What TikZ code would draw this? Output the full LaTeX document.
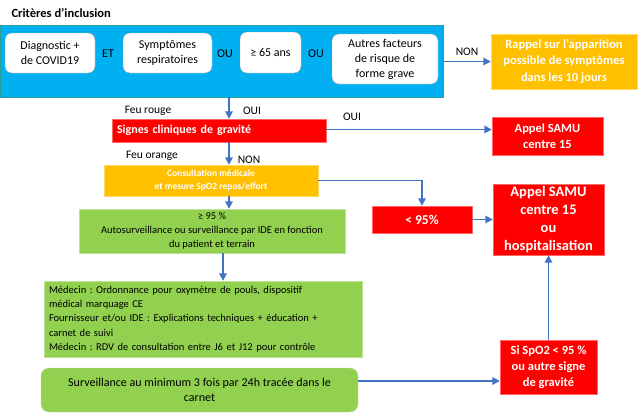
\documentclass[tikz,border=0pt]{standalone}
\usepackage{fontspec}
\setmainfont{Carlito}
\usepackage{tikz}
\usetikzlibrary{arrows.meta}
\definecolor{bleu}{HTML}{00B0F0}
\definecolor{orange}{HTML}{FFC000}
\definecolor{rouge}{HTML}{FF0000}
\definecolor{vert}{HTML}{92D050}
\definecolor{fleche}{HTML}{4472C4}
\newcommand{\taille}[2]{\fontsize{#1}{#2}\selectfont}
\frenchspacing

\begin{document}
\begin{tikzpicture}[x=1pt, y=-1pt,
        boite/.style={draw=gray!70, fill=white, rounded corners=7pt,
            align=center, inner sep=0pt, font=\taille{12}{15}},
        rougebox/.style={draw=rouge!60!white, fill=rouge, text=white,
            align=center, inner sep=0pt, font=\bfseries\taille{12.5}{16}},
        vertbox/.style={draw=vert!60!white, fill=vert, inner sep=0pt},
        lien/.style={draw=fleche, line width=1.7pt, ->,
            >={Triangle[length=7.5pt, width=7.5pt]}},
        etiq/.style={font=\taille{11.5}{14}}]
    \useasboundingbox (0, 0) rectangle (640, 415);
    \coordinate (axe) at (229, 0);
    \coordinate (axe2) at (223, 0);

    \node [anchor=west, font=\bfseries\taille{12.5}{15}] (titre) at (8, 13)
        {Critères d’inclusion};
    \node [draw={rgb,255:red,40;green,160;blue,150}, fill=bleu,
        minimum width=443, minimum height=72, anchor=north west]
        (criteres) at (0, 25) {};

    \node [boite, minimum width=90, minimum height=40] (diag) at (50, 53)
        {Diagnostic +\\de COVID19};
    \node [boite, minimum width=89, minimum height=40] (sympt) at (167.5, 53)
        {Symptômes\\respiratoires};
    \node [boite, minimum width=61, minimum height=41] (age) at (270.5, 52.5)
        {≥ 65 ans};
    \node [boite, minimum width=106, minimum height=50] (autres) at (385, 59)
        {Autres facteurs\\de risque de\\forme grave};
    \node [etiq, font=\taille{12}{15}] (et) at (108, 54) {ET};
    \node [etiq, font=\taille{12}{15}] (ou1) at (225, 54) {OU};
    \node [etiq, font=\taille{12}{15}] (ou2) at (316, 54) {OU};

    \node [fill=orange, draw=orange!60!white, text=white, align=center,
        inner sep=0pt, font=\bfseries\taille{12.5}{16.5},
        minimum width=146, minimum height=55] (rappel) at (564, 61.5)
        {Rappel sur l’apparition\\possible de symptômes\\dans les 10 jours};
    \draw [lien] (criteres.east |- rappel.west) -- (rappel.west);
    \node [etiq] (non1) at (467, 52) {NON};

    \node [rougebox, minimum width=214, minimum height=23, text width=204,
        align=left, font=\bfseries\taille{12}{15}] (gravite) at (219, 130.5)
        {Signes cliniques de gravité};
    \draw [lien] (criteres.south -| axe) -- (gravite.north -| axe);
    \node [etiq] (rouge) at (148, 111) {Feu rouge};
    \node [etiq] (oui1) at (252, 111) {OUI};

    \node [rougebox, minimum width=111, minimum height=38] (samu1)
        at (547.5, 136) {Appel SAMU\\centre 15};
    \draw [lien] ([yshift=1pt]gravite.east)
        -- ([yshift=1pt]gravite.east -| samu1.west);
    \node [etiq] (oui2) at (352, 117) {OUI};

    \node [fill=orange, draw=orange!60!white, text=white, align=center,
        inner sep=0pt, font=\bfseries\taille{9.5}{13.5},
        minimum width=214, minimum height=31] (consult) at (211, 180.5)
        {Consultation médicale\\et mesure SpO2 repos/effort};
    \draw [lien] (gravite.south -| axe) -- (consult.north -| axe);
    \node [etiq] (orange) at (152, 156) {Feu orange};
    \node [etiq] (non2) at (249, 160) {NON};

    \node [vertbox, minimum width=266, minimum height=44, align=center,
        font=\taille{10.5}{14}] (surv) at (212, 231)
        {≥ 95 \%\\Autosurveillance ou surveillance par IDE en fonction\\
        du patient et terrain};
    \draw [lien] (consult.south -| axe) -- (surv.north -| axe);

    \node [rougebox, minimum width=100, minimum height=27,
        font=\bfseries\taille{13.5}{16}] (inf) at (422, 219.5) {< 95\%};
    \draw [lien] (consult.east) -| (inf.north);

    \node [rougebox, minimum width=111, minimum height=71,
        font=\bfseries\taille{14.5}{18}] (samu2) at (548.5, 219.5)
        {Appel SAMU\\centre 15\\ou\\hospitalisation};
    \draw [lien] (inf.east) -- (inf.east -| samu2.west);

    \node [vertbox, minimum width=318, minimum height=76, text width=308,
        align=left, font=\taille{10.5}{14.3}] (medecin) at (203, 319)
        {Médecin : Ordonnance pour oxymètre de pouls, dispositif\\
        médical marquage CE\\
        Fournisseur et/ou IDE : Explications techniques + éducation +\\
        carnet de suivi\\
        Médecin : RDV de consultation entre J6 et J12 pour contrôle};
    \draw [lien] (surv.south -| axe2) -- (medecin.north -| axe2);

    \node [vertbox, rounded corners=8pt, minimum width=317, minimum height=44,
        align=center, font=\taille{12}{15}] (carnet) at (199.5, 390)
        {Surveillance au minimum 3 fois par 24h tracée dans le\\carnet};

    \node [rougebox, minimum width=97, minimum height=54,
        font=\bfseries\taille{12.5}{16}] (spo) at (548.5, 367)
        {Si SpO2 < 95 \%\\ou autre signe\\de gravité};
    \draw [lien] ([yshift=9pt]carnet.east)
        -- ([yshift=9pt]carnet.east -| spo.west);
    \draw [lien] (spo.north) -- (samu2.south);
\end{tikzpicture}
\end{document}
